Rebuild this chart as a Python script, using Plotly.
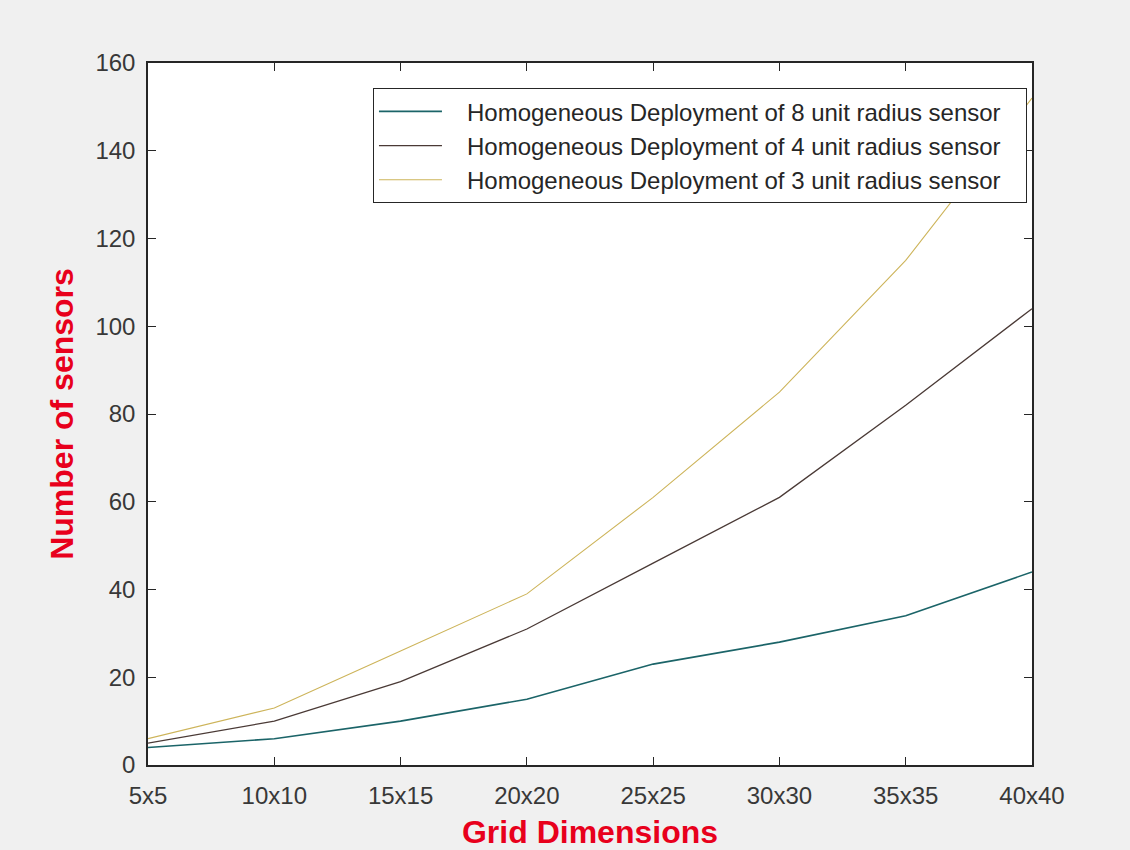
import plotly.graph_objects as go

# Grid sizes on the x axis
grid_labels = ["5x5", "10x10", "15x15", "20x20", "25x25", "30x30", "35x35", "40x40"]

# Number of sensors needed for each sensing radius
sensors_r8 = [4, 6, 10, 15, 23, 28, 34, 44]
sensors_r4 = [5, 10, 19, 31, 46, 61, 82, 104]
sensors_r3 = [6, 13, 26, 39, 61, 85, 115, 152]

series_names = [
    "Homogeneous Deployment of 8 unit radius sensor",
    "Homogeneous Deployment of 4 unit radius sensor",
    "Homogeneous Deployment of 3 unit radius sensor",
]

y_ticks = [0, 20, 40, 60, 80, 100, 120, 140, 160]

x_pos = list(range(len(grid_labels)))

# non-breaking spaces give the legend entries some breathing room
NBSP = "\u00a0"


def legend_label(text):
    return NBSP * 3 + text + NBSP * 3


fig = go.Figure()
styles = [("#1b6468", 1.6), ("#4a3a36", 1.3), ("#cdb45a", 1.1)]
for vals, name, (color, width) in zip([sensors_r8, sensors_r4, sensors_r3], series_names, styles):
    fig.add_trace(go.Scatter(
        x=x_pos, y=vals, mode="lines", name=legend_label(name),
        line=dict(color=color, width=width),
    ))

axis_font = dict(family="Liberation Sans, Arial, sans-serif", size=24, color="#383838")
title_font = dict(family="Liberation Sans, Arial, sans-serif", size=32, color="#e8001c")

fig.update_layout(
    width=1130, height=850,
    margin=dict(l=148, r=98, t=63, b=85),
    paper_bgcolor="#f0f0f0",
    plot_bgcolor="#ffffff",
    showlegend=True,
    legend=dict(
        x=0.9943, y=0.964, xanchor="right", yanchor="top",
        bgcolor="#ffffff", bordercolor="#262626", borderwidth=1,
        font=dict(family="Liberation Sans, Arial, sans-serif", size=24, color="#262626"),
        itemwidth=63, traceorder="normal",
    ),
    xaxis=dict(
        range=[0, len(grid_labels) - 1],
        tickmode="array", tickvals=x_pos, ticktext=grid_labels,
        ticks="inside", ticklen=8, tickcolor="#262626", tickwidth=1,
        showline=True, linecolor="#262626", linewidth=1.5, mirror="ticks",
        showgrid=False, zeroline=False, tickfont=axis_font,
        ticklabelstandoff=8, automargin=False,
        title=dict(text="<b>Grid Dimensions</b>", font=title_font, standoff=16),
    ),
    yaxis=dict(
        range=[0, 160],
        tickmode="array", tickvals=y_ticks,
        ticks="inside", ticklen=8, tickcolor="#262626", tickwidth=1,
        showline=True, linecolor="#262626", linewidth=1.5, mirror="ticks",
        showgrid=False, zeroline=False, tickfont=axis_font,
        ticklabelstandoff=6, automargin=False,
        title=dict(text="<b>Number of sensors</b>", font=title_font, standoff=12),
    ),
)

fig.write_html("out.html")
